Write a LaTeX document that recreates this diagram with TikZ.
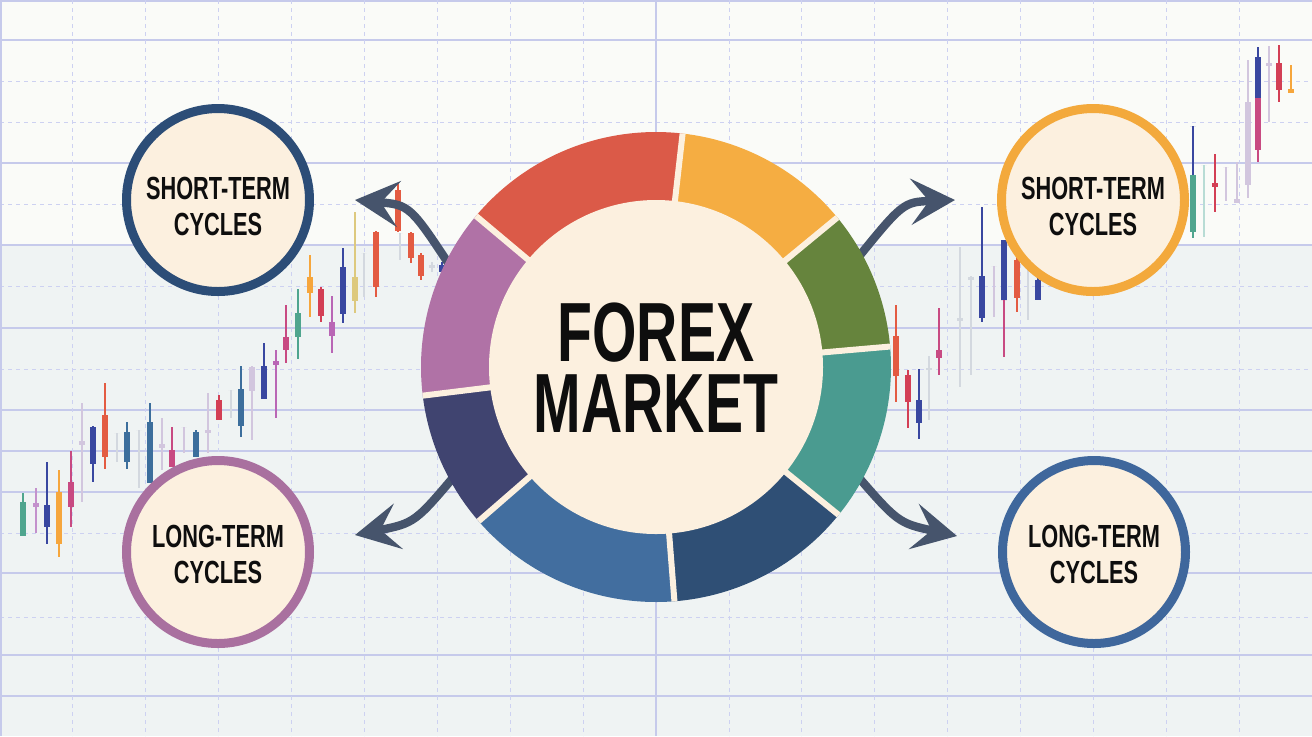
\documentclass[tikz,border=0pt]{standalone}
\usepackage{fontspec}
\usetikzlibrary{arrows.meta}
\newfontfamily\cond[FakeStretch=0.68]{Liberation Sans}
\definecolor{bgTop}{HTML}{FAFBF8}
\definecolor{bgLow}{HTML}{EFF3F3}
\definecolor{gridS}{HTML}{C6CAEB}
\definecolor{gridD}{HTML}{CDD1F1}
\definecolor{cream}{HTML}{FCF0DF}
\definecolor{ink}{HTML}{0E0E0E}
\definecolor{arrC}{HTML}{46546C}
\definecolor{sRed}{HTML}{DB5A48}
\definecolor{sOrange}{HTML}{F5AD42}
\definecolor{sGreen}{HTML}{66843D}
\definecolor{sTeal}{HTML}{4A9B90}
\definecolor{sNavy}{HTML}{2F4F75}
\definecolor{sBlue}{HTML}{426E9F}
\definecolor{sDkPurp}{HTML}{404470}
\definecolor{sPurp}{HTML}{B072A6}
\definecolor{bNavy}{HTML}{2C4D77}
\definecolor{bPurp}{HTML}{A9709F}
\definecolor{bOrange}{HTML}{F3A93C}
\definecolor{bBlue}{HTML}{3F679C}
% candle colours
\definecolor{cTeal}{HTML}{4FA58E}
\definecolor{cLTeal}{HTML}{B8DCD5}
\definecolor{cLPurp}{HTML}{C391CC}
\definecolor{cBlue}{HTML}{3947A0}
\definecolor{cOrange}{HTML}{F6A63C}
\definecolor{cMag}{HTML}{C84A82}
\definecolor{cLav}{HTML}{D2C6DE}
\definecolor{cRed}{HTML}{E35B42}
\definecolor{cGray}{HTML}{D3D8DF}
\definecolor{cSteel}{HTML}{3C6E9C}
\definecolor{cCrim}{HTML}{D33F55}
\definecolor{cKhaki}{HTML}{DDC97E}
\definecolor{cPurp}{HTML}{B966B5}
\newcommand\cdl[6]{%
  \draw[#6,line width=1pt] (#1,#2) -- (#1,#3);
  \fill[#6] ({#1-3},#4) rectangle ({#1+3},#5);}
\tikzset{
  gsolid/.style={gridS,line width=0.75pt},
  gdash/.style={gridD,line width=0.45pt,dash pattern=on 2pt off 2pt},
  cyc/.style={circle,fill=cream,line width=4.5pt,minimum size=91.5pt,inner sep=0pt},
  cyctext/.style={font=\cond\bfseries\fontsize{16}{18}\selectfont,align=center,text=ink,inner sep=0pt},
  bigtext/.style={font=\cond\bfseries\fontsize{42}{35.5}\selectfont,align=center,text=ink,inner sep=0pt},
  conn/.style={arrC,line width=4.2pt,shorten <=-8pt,-{Stealth[length=22pt,width=23pt,inset=9pt]}}
}
\begin{document}
\begin{tikzpicture}[x=0.5pt,y=-0.5pt]
\useasboundingbox (0,0) rectangle (1312,736);
% background
\fill[bgTop] (0,0) rectangle (1312,244);
\fill[bgLow] (0,244) rectangle (1312,736);
% grid
\foreach \y in {1,40,163,245,328,410,451,492,573,655,696}
  \draw[gsolid] (0,\y) -- (1312,\y);
\foreach \y in {81,122,204,286,369,533,617}
  \draw[gdash] (0,\y) -- (1312,\y);
\foreach \k in {1,...,8,10,11,...,17}
  \draw[gdash] ({72.9*\k},0) -- ({72.9*\k},736);
\draw[gsolid] (656,0) -- (656,736);
\draw[gsolid] (1,0) -- (1,736);
% left candles
\cdl{23}{493}{536}{502}{536}{cTeal}
\cdl{36}{488}{533}{503}{507}{cLPurp}
\cdl{47}{462}{544}{505}{527}{cBlue}
\cdl{59}{470}{557}{492}{544}{cOrange}
\cdl{71}{451}{527}{482}{507}{cMag}
\cdl{82}{403}{502}{441}{445}{cLav}
\cdl{93}{426}{482}{427}{464}{cBlue}
\cdl{105}{383}{469}{415}{457}{cRed}
\cdl{117}{433}{462}{433}{433}{cGray}
\cdl{127}{422}{469}{432}{462}{cSteel}
\cdl{139}{430}{488}{430}{430}{cGray}
\cdl{150}{403}{483}{422}{483}{cSteel}
\cdl{162}{418}{470}{444}{448}{cLav}
\cdl{172}{427}{467}{450}{467}{cMag}
\cdl{184}{427}{453}{427}{427}{cLav}
\cdl{196}{430}{457}{432}{457}{cSteel}
\cdl{208}{393}{453}{430}{433}{cLav}
\cdl{219}{395}{420}{400}{420}{cCrim}
\cdl{231}{390}{418}{390}{390}{cGray}
\cdl{241}{366}{437}{389}{426}{cSteel}
\cdl{252}{366}{440}{367}{391}{cLav}
\cdl{264}{343}{399}{366}{399}{cBlue}
\cdl{276}{350}{418}{361}{365}{cPurp}
\cdl{286}{305}{363}{337}{350}{cMag}
\cdl{298}{289}{359}{313}{337}{cTeal}
\cdl{310}{255}{317}{277}{293}{cOrange}
\cdl{321}{287}{322}{289}{316}{cCrim}
\cdl{332}{296}{353}{322}{336}{cPurp}
\cdl{343}{248}{323}{267}{314}{cBlue}
\cdl{355}{212}{313}{277}{301}{cKhaki}
\cdl{364}{253}{297}{253}{253}{cGray}
\cdl{376}{231}{297}{232}{287}{cRed}
\cdl{398}{183}{232}{190}{231}{cRed}
\cdl{400}{233}{260}{233}{233}{cGray}
\cdl{411}{232}{263}{233}{258}{cRed}
\cdl{421}{253}{280}{255}{276}{cRed}
\cdl{432}{262}{272}{265}{268}{cGray}
\cdl{442}{262}{275}{265}{272}{cBlue}
% right candles
\cdl{896}{305}{402}{336}{376}{cRed}
\cdl{908}{370}{428}{375}{402}{cCrim}
\cdl{919}{369}{439}{400}{423}{cBlue}
\cdl{929}{356}{420}{368}{370}{cGray}
\cdl{939}{308}{375}{350}{358}{cMag}
\cdl{960}{247}{387}{318}{321}{cGray}
\cdl{971}{276}{375}{277}{280}{cGray}
\cdl{982}{207}{322}{276}{318}{cBlue}
\cdl{994}{266}{317}{266}{266}{cLav}
\cdl{1004}{300}{357}{300}{300}{cMag}
\cdl{1004}{240}{300}{240}{300}{cBlue}
\cdl{1017}{257}{312}{260}{298}{cRed}
\cdl{1028}{265}{320}{265}{265}{cGray}
\cdl{1038}{270}{300}{280}{300}{cBlue}
\cdl{1193}{126}{175}{126}{126}{cBlue}
\cdl{1193}{175}{238}{175}{232}{cTeal}
\cdl{1204}{165}{237}{165}{165}{cLTeal}
\cdl{1215}{154}{212}{183}{187}{cCrim}
\cdl{1226}{167}{201}{167}{167}{cLav}
\cdl{1237}{162}{202}{199}{203}{cLav}
\cdl{1248}{60}{198}{102}{185}{cLav}
\cdl{1258}{97}{162}{97}{150}{cMag}
\cdl{1258}{47}{98}{57}{98}{cBlue}
\cdl{1269}{46}{122}{63}{66}{cLav}
\cdl{1279}{45}{102}{63}{90}{cCrim}
\cdl{1291}{65}{93}{89}{93}{cOrange}
% ring anchor node and arrows
\node[circle,minimum size=235pt,inner sep=0pt] (ring) at (656,367) {};
\coordinate (tipTL) at (355,200);
\coordinate (tipBL) at (355,535);
\coordinate (tipTR) at (955,200);
\coordinate (tipBR) at (957,536);
\draw[conn] (ring.153) .. controls (410,205) .. (tipTL);
\draw[conn] (ring.209) .. controls (415,523) .. (tipBL);
\draw[conn] (ring.29) .. controls (903,202) .. (tipTR);
\draw[conn] (ring.-29) .. controls (898,523) .. (tipBR);
% ring segments
\begin{scope}[shift={(656,367)},y=0.5pt]
  \fill[sRed] (0,0) -- (83.5:235) arc[start angle=83.5,end angle=140,radius=235] -- cycle;
  \fill[sPurp] (0,0) -- (140:235) arc[start angle=140,end angle=187,radius=235] -- cycle;
  \fill[sDkPurp] (0,0) -- (187:235) arc[start angle=187,end angle=221,radius=235] -- cycle;
  \fill[sBlue] (0,0) -- (221:235) arc[start angle=221,end angle=274.5,radius=235] -- cycle;
  \fill[sNavy] (0,0) -- (274.5:235) arc[start angle=274.5,end angle=321,radius=235] -- cycle;
  \fill[sTeal] (0,0) -- (321:235) arc[start angle=321,end angle=365,radius=235] -- cycle;
  \fill[sGreen] (0,0) -- (5:235) arc[start angle=5,end angle=39.5,radius=235] -- cycle;
  \fill[sOrange] (0,0) -- (39.5:235) arc[start angle=39.5,end angle=83.5,radius=235] -- cycle;
  \foreach \a in {83.5,39.5,5,-39,-85.5,-139,-173,140}
    \draw[cream,line width=3pt] (0,0) -- (\a:235);
\end{scope}
\node[circle,fill=cream,minimum size=167pt,inner sep=0pt] (core) at (656,367) {};
\node[bigtext] (market) at (656,367.5) {FOREX\\MARKET};
% cycle circles
\node[cyc,draw=bNavy] (stL) at (218,200) {};
\node[cyctext] (stLt) at (218,206) {SHORT-TERM\\CYCLES};
\node[cyc,draw=bPurp] (ltL) at (218,552) {};
\node[cyctext] (ltLt) at (218,554.5) {LONG-TERM\\CYCLES};
\node[cyc,draw=bOrange] (stR) at (1093,200) {};
\node[cyctext] (stRt) at (1093,206) {SHORT-TERM\\CYCLES};
\node[cyc,draw=bBlue] (ltR) at (1094,552) {};
\node[cyctext] (ltRt) at (1094,554.5) {LONG-TERM\\CYCLES};
\end{tikzpicture}
\end{document}
